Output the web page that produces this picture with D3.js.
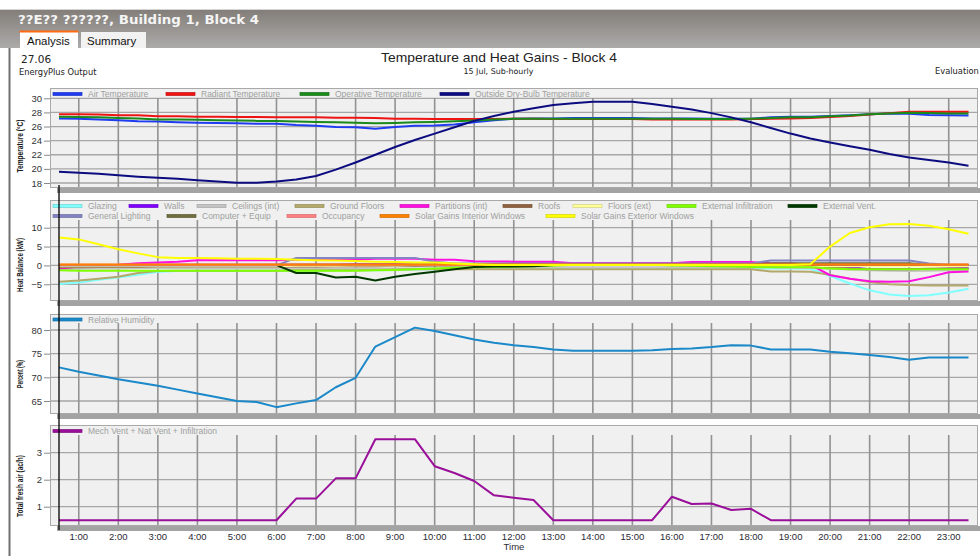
<!DOCTYPE html>
<html><head><meta charset="utf-8">
<script src="https://cdn.jsdelivr.net/npm/d3@7"></script>
<style>body{margin:0;background:#fff}svg{display:block;font-family:"Liberation Sans",Arial,sans-serif}</style>
</head><body><svg id="c" width="980" height="556"></svg>
<script>
// ---------- DATA ----------
const times = [0.5,1,1.5,2,2.5,3,3.5,4,4.5,5,5.5,6,6.5,7,7.5,8,8.5,9,9.5,10,10.5,11,11.5,12,12.5,13,13.5,14,14.5,15,15.5,16,16.5,17,17.5,18,18.5,19,19.5,20,20.5,21,21.5,22,22.5,23,23.5];
const hourTicks = [1,2,3,4,5,6,7,8,9,10,11,12,13,14,15,16,17,18,19,20,21,22,23];
const hourLabels = ["1:00","2:00","3:00","4:00","5:00","6:00","7:00","8:00","9:00","10:00","11:00","12:00","13:00","14:00","15:00","16:00","17:00","18:00","19:00","20:00","21:00","22:00","23:00"];

const tempTicks = [18,20,22,24,26,28,30];
const heatTicks = [-5,0,5,10];
const rhTicks = [65,70,75,80];
const ventTicks = [1,2,3];

const airTemp = [27.15,27.1,27.0,26.9,26.75,26.7,26.6,26.55,26.5,26.45,26.4,26.4,26.2,26.1,25.95,25.9,25.7,25.95,26.1,26.15,26.3,26.6,26.9,27.1,27.15,27.15,27.2,27.2,27.2,27.2,27.15,27.15,27.15,27.1,27.1,27.1,27.3,27.4,27.4,27.5,27.6,27.75,27.85,27.8,27.65,27.6,27.55];
const radTemp = [27.75,27.75,27.7,27.6,27.6,27.45,27.45,27.4,27.4,27.35,27.35,27.3,27.3,27.3,27.25,27.25,27.2,27.1,27.1,27.05,27.05,27.05,27.05,27.1,27.1,27.05,27.05,27.05,27.05,27.05,27.0,27.0,27.0,27.0,27.0,27.05,27.1,27.15,27.2,27.35,27.5,27.7,27.9,28.1,28.1,28.1,28.1];
const opTemp = [27.4,27.35,27.3,27.2,27.15,27.0,27.0,26.95,26.9,26.85,26.8,26.8,26.7,26.65,26.6,26.55,26.45,26.5,26.6,26.65,26.75,26.85,27.0,27.1,27.1,27.1,27.1,27.1,27.1,27.1,27.1,27.1,27.05,27.05,27.05,27.1,27.2,27.3,27.3,27.45,27.55,27.75,27.85,27.95,27.9,27.85,27.85];
const outTemp = [19.6,19.45,19.3,19.1,18.9,18.75,18.6,18.4,18.2,18.05,18.05,18.2,18.5,19.0,19.9,20.9,22.0,23.1,24.1,25.0,25.9,26.8,27.5,28.1,28.6,29.05,29.3,29.5,29.5,29.5,29.2,28.8,28.4,27.9,27.3,26.6,25.8,25.0,24.3,23.75,23.2,22.7,22.1,21.6,21.25,20.9,20.45];

const glazing = [-4.9,-4.5,-3.8,-3.2,-2.5,-1.7,-1.5,-1.4,-1.4,-1.4,-1.4,-1.4,-1.4,-1.4,-1.3,-1.3,-1.3,-1.2,-1.1,-1.0,-0.9,-0.8,-0.8,-0.8,-0.8,-0.8,-0.8,-0.8,-0.8,-0.8,-0.8,-0.8,-0.8,-0.8,-0.8,-0.8,-0.8,-0.8,-0.9,-2.8,-4.8,-6.6,-7.7,-8.1,-7.9,-7.2,-6.2];
const walls = [-0.7,-0.5,-0.2,0.1,0.2,0.2,0.2,0.2,0.2,0.2,0.2,0.2,0.2,0.2,0.2,0.3,0.3,0.3,0.3,0.3,0.4,0.4,0.4,0.5,0.5,0.5,0.5,0.5,0.5,0.5,0.5,0.5,0.5,0.5,0.4,0.3,0.2,0.1,0.0,-0.3,-0.4,-1.0,-1.0,-1.0,-1.0,-0.8,-0.7];
const ceilings = [-1.0,-0.9,-0.8,-0.8,-0.7,-0.7,-0.7,-0.7,-0.7,-0.7,-0.7,-0.7,-0.8,-0.8,-0.8,-0.8,-0.8,-0.8,-0.8,-0.8,-0.7,-0.6,-0.5,-0.5,-0.5,-0.5,-0.5,-0.5,-0.5,-0.5,-0.5,-0.5,-0.5,-0.5,-0.5,-0.5,-0.5,-0.6,-0.7,-0.9,-1.1,-1.3,-1.4,-1.5,-1.4,-1.3,-1.2];
const groundFloors = [-4.3,-4.0,-3.5,-3.0,-2.0,-1.5,-1.4,-1.4,-1.4,-1.4,-1.4,-1.4,-1.3,-1.3,-1.3,-1.3,-1.2,-1.1,-1.0,-1.0,-1.0,-1.0,-1.0,-1.0,-1.0,-1.0,-1.0,-1.0,-1.0,-1.0,-1.0,-1.0,-1.0,-1.0,-1.0,-1.0,-1.6,-1.6,-1.7,-2.5,-3.5,-4.4,-5.0,-5.2,-5.3,-5.3,-5.3];
const partitions = [-0.9,-0.3,0.0,0.2,0.6,0.8,1.0,1.4,1.4,1.4,1.4,1.4,1.5,1.5,1.5,1.5,1.8,1.8,1.8,1.5,1.5,1.1,1.05,1.0,1.0,1.0,0.6,0.6,0.6,0.6,0.6,0.6,0.9,0.9,0.9,0.9,0.5,0.5,0.2,-2.6,-3.5,-4.2,-4.3,-4.2,-3.1,-1.8,-1.6];
const roofs = [-0.5,-0.5,-0.4,-0.4,-0.4,-0.3,-0.3,-0.3,-0.3,-0.3,-0.3,-0.3,-0.3,-0.3,-0.2,-0.2,-0.2,-0.1,-0.1,0.0,0.0,0.1,0.1,0.1,0.1,0.1,0.1,0.1,0.1,0.1,0.1,0.1,0.1,0.1,0.0,0.0,-0.1,-0.2,-0.3,-0.6,-0.8,-1.0,-1.0,-1.0,-0.9,-0.8,-0.8];
const floorsExt = [-0.2,-0.2,-0.2,-0.2,-0.2,-0.2,-0.2,-0.2,-0.2,-0.2,-0.2,-0.2,-0.1,-0.1,-0.1,0.0,0.0,0.0,0.1,0.1,0.1,0.1,0.1,0.1,0.1,0.1,0.1,0.1,0.1,0.1,0.1,0.1,0.1,0.1,0.1,0.0,0.0,-0.1,-0.1,-0.2,-0.2,-0.2,-0.2,-0.2,-0.2,-0.2,-0.2];
const extInfiltration = [-1.3,-1.4,-1.4,-1.4,-1.4,-1.4,-1.4,-1.4,-1.4,-1.4,-1.4,-1.4,-1.4,-1.4,-1.4,-1.4,-1.3,-1.2,-1.0,-0.8,-0.6,-0.5,-0.4,-0.3,-0.2,-0.1,0.2,0.4,0.4,0.4,0.2,0.0,-0.1,-0.2,-0.3,-0.4,-0.5,-0.5,-0.5,-0.8,-1.0,-1.0,-1.0,-1.0,-1.0,-1.0,-1.0];
const extVent = [0.1,0.1,0.1,0.1,0.1,0.1,0.1,0.1,0.1,0.1,0.1,0.1,-2.0,-2.0,-3.2,-3.0,-4.0,-3.0,-2.3,-1.7,-1.0,-0.4,-0.3,-0.3,-0.2,0.1,0.1,0.1,0.1,0.1,0.1,0.1,0.1,0.1,0.1,0.1,0.1,0.1,0.1,0.1,0.1,0.1,0.1,0.1,0.1,0.1,0.1];
const lighting = [0,0,0,0,0,0,0,0,0,0,0,0,2.0,2.0,2.0,2.0,2.0,2.0,2.0,1.0,0.5,0.5,0.5,0.5,0.5,0.5,0.5,0.5,0.5,0.5,0.5,0.5,0.5,0.5,0.5,0.5,1.3,1.3,1.3,1.3,1.3,1.3,1.3,1.3,0.5,0.2,0.2];
const compEquip = [0.1,0.1,0.1,0.1,0.1,0.1,0.1,0.1,0.1,0.1,0.1,0.1,0.2,0.2,0.2,0.2,0.2,0.2,0.2,0.2,0.2,0.2,0.2,0.2,0.2,0.2,0.2,0.2,0.2,0.2,0.2,0.2,0.2,0.2,0.2,0.2,0.6,0.6,0.6,0.6,0.6,0.6,0.6,0.6,0.1,0.1,0.1];
const occupancy = [0.15,0.15,0.15,0.15,0.15,0.15,0.15,0.15,0.15,0.15,0.15,0.15,0.2,0.2,0.2,0.2,0.2,0.2,0.2,0.2,0.2,0.2,0.2,0.2,0.2,0.2,0.2,0.2,0.2,0.2,0.2,0.2,0.2,0.2,0.2,0.2,0.2,0.2,0.2,0.2,0.2,0.2,0.2,0.2,0.15,0.15,0.15];
const solarInt = [0.25,0.25,0.25,0.25,0.25,0.25,0.25,0.25,0.25,0.25,0.25,0.25,0.25,0.25,0.25,0.25,0.25,0.25,0.25,0.25,0.25,0.25,0.25,0.25,0.25,0.25,0.25,0.25,0.25,0.25,0.25,0.25,0.25,0.25,0.25,0.25,0.25,0.25,0.25,0.25,0.25,0.25,0.25,0.25,0.25,0.25,0.25];
const solarExt = [7.4,6.9,5.6,4.3,3.2,2.2,2.0,2.0,1.9,1.8,1.8,1.7,1.5,1.4,1.3,1.2,1.0,0.9,0.8,0.8,0.5,0.3,0.1,0.1,0.1,0.1,0.1,0.1,0.1,0.1,0.1,0.1,0.1,0.1,0.1,0.1,0.1,0.1,0.3,5.0,8.6,10.1,10.9,11.0,10.5,9.6,8.4];

const relHumidity = [72.1,71.2,70.4,69.6,68.9,68.2,67.4,66.6,65.8,65.0,64.8,63.7,64.5,65.2,67.9,69.9,76.5,78.5,80.5,79.8,78.9,78.0,77.3,76.8,76.4,75.9,75.6,75.6,75.6,75.6,75.7,76.0,76.1,76.4,76.8,76.7,75.9,75.9,75.9,75.4,75.1,74.7,74.3,73.7,74.2,74.2,74.2];
const freshAir = [0.5,0.5,0.5,0.5,0.5,0.5,0.5,0.5,0.5,0.5,0.5,0.5,1.3,1.3,2.05,2.05,3.5,3.5,3.5,2.5,2.25,1.95,1.42,1.33,1.25,0.5,0.5,0.5,0.5,0.5,0.5,1.37,1.1,1.12,0.88,0.92,0.5,0.5,0.5,0.5,0.5,0.5,0.5,0.5,0.5,0.5,0.5];

// ---------- CHART ----------
const svg = d3.select("#c");
const BOX_L = 50, BOX_R = 977;
const SMALL = "DejaVu Sans, Verdana, sans-serif";
const x = d3.scaleLinear().domain([0.5, 23.5]).range([59, 968.5]);

// header
const defs = svg.append("defs");
const gr = defs.append("linearGradient").attr("id","hdr").attr("x1",0).attr("y1",0).attr("x2",0).attr("y2",1);
gr.append("stop").attr("offset","0%").attr("stop-color","#837e79");
gr.append("stop").attr("offset","100%").attr("stop-color","#acabaa");
svg.append("rect").attr("width",980).attr("height",556).attr("fill","#fff");
svg.append("line").attr("x1",0).attr("x2",980).attr("y1",9.5).attr("y2",9.5).attr("stroke","#d4d4d4");
svg.append("rect").attr("x",0).attr("y",10).attr("width",980).attr("height",38).attr("fill","url(#hdr)");
svg.append("text").attr("x",18).attr("y",24).attr("font-family",SMALL)
  .attr("font-weight","bold").attr("font-size",12).attr("fill","#f5f5f5")
  .attr("textLength",241).attr("lengthAdjust","spacingAndGlyphs").text("??E?? ??????, Building 1, Block 4");
svg.append("rect").attr("x",20).attr("y",31).attr("width",58).attr("height",17).attr("fill","#fff");
svg.append("rect").attr("x",19.5).attr("y",30.5).attr("width",59).attr("height",2).attr("fill","#ff6a10");
svg.append("text").attr("x",27).attr("y",45).attr("font-size",11.5).attr("fill","#111").text("Analysis");
svg.append("rect").attr("x",81).attr("y",32).attr("width",65).attr("height",16).attr("fill","#f2f2f2");
svg.append("text").attr("x",87).attr("y",45).attr("font-size",11.5).attr("fill","#111").text("Summary");
svg.append("line").attr("x1",9.5).attr("x2",9.5).attr("y1",48).attr("y2",556).attr("stroke","#707070").attr("stroke-width",2);

svg.append("text").attr("x",21).attr("y",63).attr("font-family",SMALL).attr("font-size",10.5).attr("fill","#222").text("27.06");
svg.append("text").attr("x",19).attr("y",75).attr("font-family",SMALL).attr("font-size",8.3).attr("fill","#222").text("EnergyPlus Output");
svg.append("text").attr("x",499).attr("y",62).attr("text-anchor","middle").attr("font-size",13.2).attr("fill","#222")
  .attr("textLength",236).attr("lengthAdjust","spacingAndGlyphs").text("Temperature and Heat Gains - Block 4");
svg.append("text").attr("x",498.5).attr("y",74).attr("text-anchor","middle").attr("font-family",SMALL).attr("font-size",7.9).attr("fill","#222").text("15 Jul, Sub-hourly");
svg.append("text").attr("x",935).attr("y",74).attr("font-family",SMALL).attr("font-size",8.3).attr("fill","#222").text("Evaluation");

const panels = [
  {top:88, bottom:187, gridTop:98, domain:[18,30], range:[183,98.3], ticks:tempTicks, title:"Temperature (°C)", titleY:146, titleLen:53,
   legendY:[94],
   series:[
     {name:"Air Temperature", color:"#1f3cf2", values:airTemp, lx:53, row:0},
     {name:"Radiant Temperature", color:"#ee1414", values:radTemp, lx:166, row:0},
     {name:"Operative Temperature", color:"#1a8a1a", values:opTemp, lx:300, row:0},
     {name:"Outside Dry-Bulb Temperature", color:"#0c0c80", values:outTemp, lx:440, row:0}
   ]},
  {top:200, bottom:300, gridTop:220, domain:[-5,10], range:[284.3,227.7], ticks:heatTicks, title:"Heat Balance (kW)", titleY:265, titleLen:54,
   legendY:[206,216],
   series:[
     {name:"Glazing", color:"#80ffff", values:glazing, lx:53, row:0},
     {name:"Walls", color:"#8000ff", values:walls, lx:129, row:0},
     {name:"Ceilings (int)", color:"#c4c4c4", values:ceilings, lx:197, row:0},
     {name:"Ground Floors", color:"#b4a86a", values:groundFloors, lx:295, row:0},
     {name:"Partitions (int)", color:"#ff10e0", values:partitions, lx:400, row:0},
     {name:"Roofs", color:"#8f6040", values:roofs, lx:503, row:0},
     {name:"Floors (ext)", color:"#ffff99", values:floorsExt, lx:573, row:0},
     {name:"External Infiltration", color:"#80ff00", values:extInfiltration, lx:667, row:0},
     {name:"External Vent.", color:"#003800", values:extVent, lx:788, row:0},
     {name:"General Lighting", color:"#8484c4", values:lighting, lx:53, row:1},
     {name:"Computer + Equip", color:"#6e6e3e", values:compEquip, lx:167, row:1},
     {name:"Occupancy", color:"#ff8080", values:occupancy, lx:287, row:1},
     {name:"Solar Gains Interior Windows", color:"#ff8000", values:solarInt, lx:380, row:1},
     {name:"Solar Gains Exterior Windows", color:"#ffff00", values:solarExt, lx:546, row:1}
   ]},
  {top:314, bottom:413, gridTop:323, domain:[65,80], range:[401,330], ticks:rhTicks, title:"Percent (%)", titleY:374, titleLen:28,
   legendY:[319.5],
   series:[{name:"Relative Humidity", color:"#1a88c9", values:relHumidity, lx:53, row:0}]},
  {top:425, bottom:525, gridTop:435, domain:[1,3], range:[506.7,452.7], ticks:ventTicks, title:"Total fresh air (ac/h)", titleY:486, titleLen:62,
   legendY:[431],
   series:[{name:"Mech Vent + Nat Vent + Infiltration", color:"#9a0f9a", values:freshAir, lx:53, row:0}]}
];

panels.forEach(p => {
  const g = svg.append("g");
  const y = d3.scaleLinear().domain(p.domain).range(p.range);
  g.append("rect").attr("x",BOX_L+0.5).attr("y",p.top+0.5).attr("width",BOX_R-BOX_L).attr("height",p.bottom-p.top)
    .attr("fill","#eff0ef").attr("stroke","#a9a9a9");
  g.append("rect").attr("x",57).attr("y",p.bottom+1).attr("width",923).attr("height",5).attr("fill","#a3a3a3");
  g.selectAll(".hg").data(p.ticks).enter().append("line")
    .attr("x1",BOX_L+1).attr("x2",BOX_R).attr("y1",d=>y(d)).attr("y2",d=>y(d))
    .attr("stroke","#a6a6a6").attr("stroke-width",1.3);
  g.selectAll(".vg").data(hourTicks).enter().append("line")
    .attr("x1",d=>x(d)).attr("x2",d=>x(d)).attr("y1",p.gridTop).attr("y2",p.bottom)
    .attr("stroke","#929292").attr("stroke-width",1.6);
  const ax = g.append("g").attr("transform",`translate(${BOX_L},0)`)
    .call(d3.axisLeft(y).tickValues(p.ticks).tickSize(6).tickPadding(2).tickFormat(d3.format("d")));
  ax.select(".domain").remove();
  ax.selectAll(".tick line").attr("stroke","#8a8a8a");
  ax.selectAll(".tick text").attr("font-size",9.5).attr("fill","#333").attr("font-family","Liberation Sans, Arial, sans-serif");
  g.append("text").attr("transform",`translate(23,${p.titleY}) rotate(-90)`).attr("text-anchor","middle")
    .attr("font-size",9).attr("font-weight","bold").attr("fill","#1a1a1a")
    .attr("textLength",p.titleLen).attr("lengthAdjust","spacingAndGlyphs").text(p.title);
  const line = d3.line().x((d,i)=>x(times[i])).y(d=>y(d));
  p.series.forEach(s => {
    g.append("path").datum(s.values).attr("d",line).attr("fill","none")
      .attr("stroke",s.color).attr("stroke-width",2).attr("stroke-linejoin","round");
  });
  p.series.forEach(s => {
    const ly = p.legendY[s.row];
    g.append("rect").attr("x",s.lx).attr("y",ly-1.5).attr("width",29).attr("height",3)
      .attr("fill",s.color).attr("stroke",d3.color(s.color).darker(0.5)).attr("stroke-width",0.7);
    g.append("text").attr("x",s.lx+35).attr("y",ly+3).attr("font-size",8.5).attr("fill","#a0a0a0").text(s.name);
  });
});

svg.append("g").selectAll("text").data(hourTicks).enter().append("text")
  .attr("x",d=>x(d)).attr("y",539.5).attr("text-anchor","middle").attr("font-size",9.5).attr("fill","#2b2b35")
  .text((d,i)=>hourLabels[i]);
svg.append("text").attr("x",514).attr("y",550).attr("text-anchor","middle").attr("font-size",9.5).attr("fill","#2b2b35").text("Time");

svg.append("line").attr("x1",x(times[0])).attr("x2",x(times[0])).attr("y1",185).attr("y2",530)
  .attr("stroke","#000").attr("stroke-width",1.3);
</script></body></html>
